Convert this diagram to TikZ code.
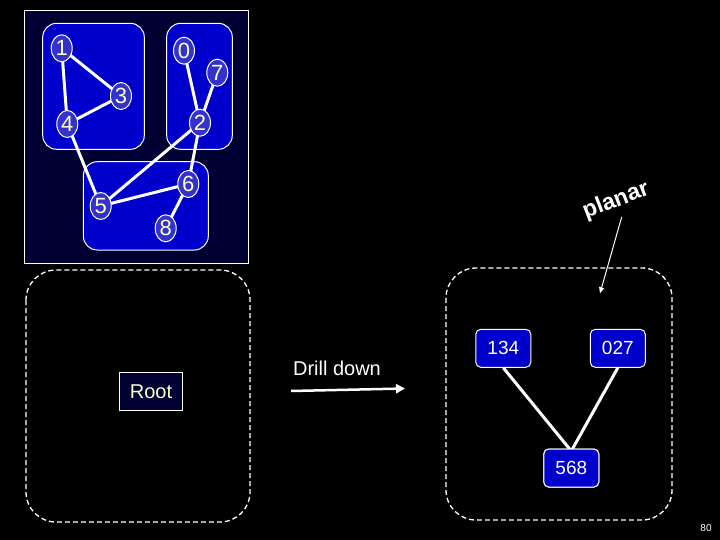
\documentclass[tikz,border=0pt]{standalone}
\usepackage{fontspec}
\setmainfont{Liberation Sans}
\usetikzlibrary{shapes.geometric,arrows.meta}
\definecolor{panelbg}{HTML}{000033}
\definecolor{boxblue}{HTML}{0000CC}
\definecolor{nodeblue}{HTML}{3333CC}
\definecolor{txtyel}{HTML}{FFFFCC}
\tikzset{
  vnode/.style={ellipse,draw=white,line width=1pt,fill=nodeblue,minimum width=21pt,minimum height=27pt,inner sep=0pt,text=txtyel,font=\fontsize{22}{22}\selectfont},
  gbox/.style={draw=white,line width=1pt,fill=boxblue,rounded corners=14pt},
  edge/.style={draw=white,line width=3pt},
  cnode/.style={rectangle,rounded corners=5pt,draw=white,line width=1pt,fill=boxblue,minimum width=55pt,minimum height=38pt,inner sep=0pt,text=white,font=\fontsize{19}{19}\selectfont},
  dbox/.style={draw=white,line width=1.3pt,dash pattern=on 5pt off 3pt,rounded corners=30pt},
}
\begin{document}
\begin{tikzpicture}[x=1pt,y=-1pt]
\fill[black] (0,0) rectangle (720,540);
\useasboundingbox (0,0) rectangle (720,540);
% top-left panel
\draw[white,line width=1pt,fill=panelbg] (24,11) rectangle (248,263);
\draw[gbox] (42.7,23.3) rectangle (144.3,149.3);
\draw[gbox] (166.7,23.3) rectangle (232.3,149.3);
\draw[gbox] (83.3,161.7) rectangle (208.3,250);
% vertex positions
\coordinate (p1) at (61.7,48.3);
\coordinate (p0) at (184,50.7);
\coordinate (p7) at (217.3,72.7);
\coordinate (p3) at (121,96);
\coordinate (p4) at (67.3,124);
\coordinate (p2) at (200,122.7);
\coordinate (p6) at (188.3,184);
\coordinate (p5) at (100.7,206);
\coordinate (p8) at (165.7,228.3);
\draw[edge] (p1)--(p3) (p1)--(p4) (p3)--(p4) (p4)--(p5) (p0)--(p2) (p7)--(p2)
  (p2)--(p5) (p2)--(p6) (p5)--(p6) (p6)--(p8);
\foreach \n in {0,...,8}{ \node[vnode] (v\n) at (p\n) {\n}; }
% dashed boxes
\draw[dbox] (26,270) rectangle (250,522);
\draw[dbox] (446,268) rectangle (672,520);
% root
\node[rectangle,draw=white,line width=1pt,fill=panelbg,minimum width=63pt,minimum height=38pt,inner sep=0pt,text=txtyel,font=\fontsize{20}{20}\selectfont] (root) at (151,391.5) {Root};
% drill down
\node[text=white,font=\fontsize{20}{20}\selectfont] (dd) at (337,368) {Drill down};
\coordinate (da) at (291,391);
\coordinate (db) at (405,388.5);
\draw[white,line width=2.5pt,-{Triangle[width=9pt,length=9pt]}] (da)--(db);
% right graph
\node[cnode] (c134) at (503.3,348.3) {134};
\node[cnode] (c027) at (617.8,348.3) {027};
\node[cnode] (c568) at (571.3,468) {568};
\coordinate (m) at (571.3,451);
\draw[edge] (c134.south) -- (m);
\draw[edge] (c027.south) -- (m);
\node[cnode] at (c568) {568};
% planar
\node[text=white,rotate=21,font=\bfseries\fontsize{23}{23}\selectfont] (pl) at (616,201) {planar};
\coordinate (pa) at (621.7,217);
\coordinate (pb) at (600,293.3);
\draw[white,line width=1pt,-{Triangle[width=5pt,length=6pt]}] (pa)--(pb);
% page number
\node[text=white,font=\fontsize{10}{10}\selectfont] (pg) at (706,528) {80};
\end{tikzpicture}
\end{document}
